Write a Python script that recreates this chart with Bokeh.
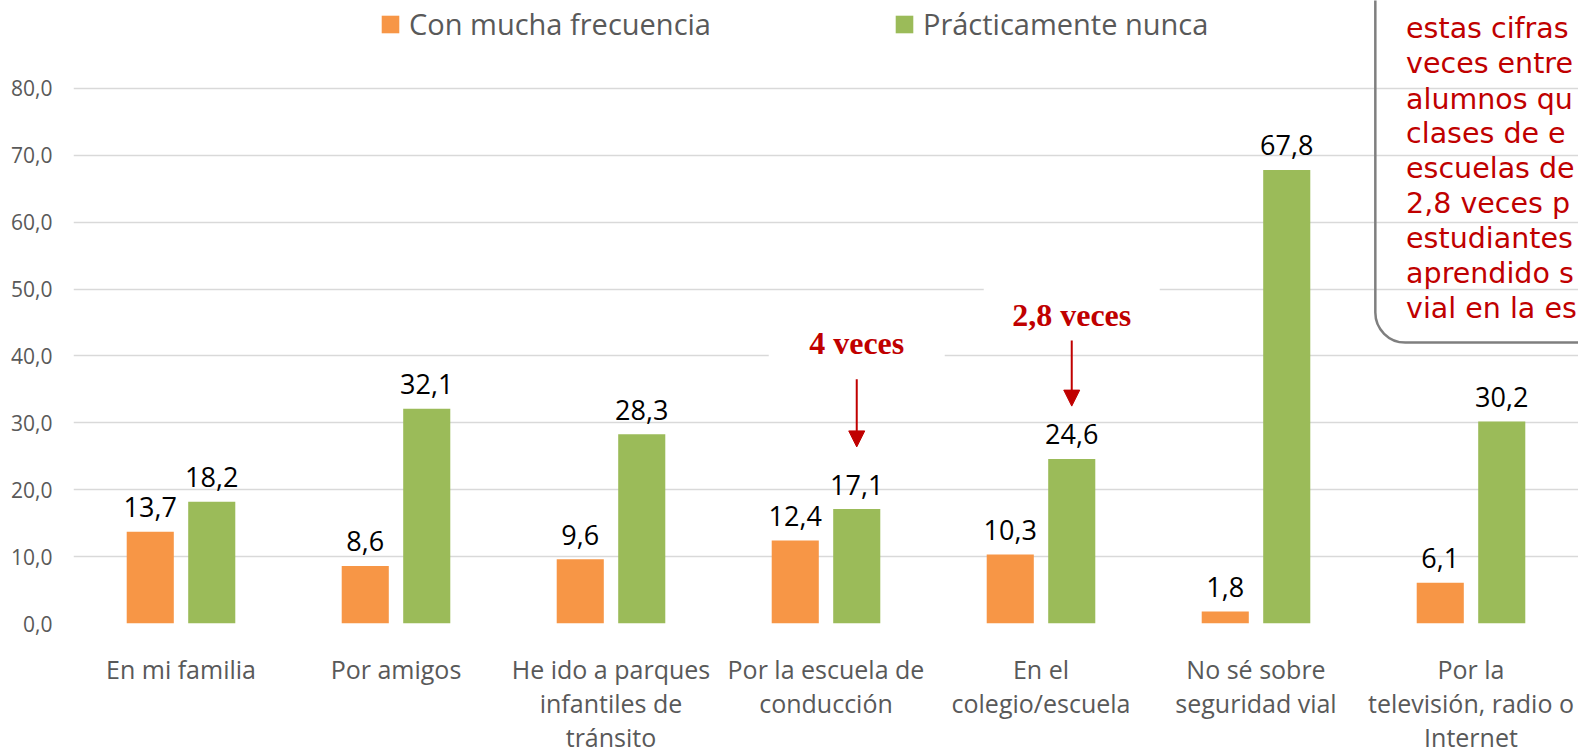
from bokeh.plotting import figure
from bokeh.models import (FactorRange, Range1d, FixedTicker, ColumnDataSource, Legend, LegendItem,
                          BoxAnnotation, Arrow, NormalHead, CustomJSTickFormatter)
from bokeh.transform import dodge
from bokeh.core.properties import value
from bokeh.embed import file_html
from bokeh.resources import INLINE

# ---------------- data ----------------
categories = [
    "En mi familia",
    "Por amigos",
    "He ido a parques\ninfantiles de\ntránsito",
    "Por la escuela de\nconducción",
    "En el\ncolegio/escuela",
    "No sé sobre\nseguridad vial",
    "Por la\ntelevisión, radio o\nInternet",
]
con_mucha_frecuencia = [13.7, 8.6, 9.6, 12.4, 10.3, 1.8, 6.1]
practicamente_nunca = [18.2, 32.1, 28.3, 17.1, 24.6, 67.8, 30.2]
series_names = ["Con mucha frecuencia", "Prácticamente nunca"]
y_ticks = [0, 10, 20, 30, 40, 50, 60, 70, 80]

# annotations
note_labels = ["4 veces", "2,8 veces"]
note_cat_index = [3, 4]
note_text_y = [42.0, 46.1]
note_box_y = [42.8, 46.6]
note_arrow_start = [36.5, 42.3]
note_arrow_end = [26.4, 32.5]

callout_lines = [
    "estas cifras",
    "veces entre",
    "alumnos qu",
    "clases de e",
    "escuelas de",
    "2,8 veces p",
    "estudiantes",
    "aprendido s",
    "vial en la es",
]
callout_line_y = [88.9, 83.7, 78.4, 73.2, 68.0, 62.8, 57.5, 52.3, 47.1]

ORANGE = "#F79646"
GREEN = "#9BBB59"
RED = "#C00000"
GREY_TXT = "#595959"
GRID = "#D9D9D9"
OFF = 0.143
BAR_W = 0.219

def fmt(v):
    return f"{v:.1f}".replace(".", ",")

src = ColumnDataSource(dict(
    cat=categories,
    a=con_mucha_frecuencia,
    b=practicamente_nunca,
    a_lab=[fmt(v) for v in con_mucha_frecuencia],
    b_lab=[fmt(v) for v in practicamente_nunca],
))

p = figure(width=1578, height=756, x_range=FactorRange(*categories, range_padding=0),
           y_range=Range1d(0, 93.14), output_backend="svg", toolbar_location=None,
           min_border_left=73, min_border_right=0, min_border_top=0, min_border_bottom=131)
p.outline_line_color = None
p.background_fill_color = "white"
p.border_fill_color = "white"

r1 = p.vbar(x=dodge("cat", -OFF, range=p.x_range), top="a", width=BAR_W, source=src,
            fill_color=ORANGE, line_color=None)
r2 = p.vbar(x=dodge("cat", OFF, range=p.x_range), top="b", width=BAR_W, source=src,
            fill_color=GREEN, line_color=None)

for col, lab, off in (("a", "a_lab", -OFF), ("b", "b_lab", OFF)):
    p.text(x=dodge("cat", off, range=p.x_range), y=col, text=lab, source=src,
           text_align="center", text_baseline="alphabetic", y_offset=-24.5,
           text_font=value("Open Sans"), text_font_size="27px", text_color="#000000")

# axes
p.xgrid.visible = False
p.ygrid.grid_line_color = GRID
p.ygrid.grid_line_width = 1.5
p.yaxis.ticker = FixedTicker(ticks=y_ticks)
p.yaxis.formatter = CustomJSTickFormatter(code="return tick.toFixed(1).replace('.', ',');")
p.yaxis.axis_line_color = None
p.yaxis.major_tick_line_color = None
p.yaxis.major_tick_out = 0
p.yaxis.major_tick_in = 0
p.yaxis.minor_tick_line_color = None
p.yaxis.major_label_text_font = "Open Sans"
p.yaxis.major_label_text_font_size = "21px"
p.yaxis.major_label_text_color = GREY_TXT
p.yaxis.major_label_standoff = 21

p.xaxis.axis_line_color = None
p.xaxis.major_tick_line_color = None
p.xaxis.major_tick_out = 0
p.xaxis.major_tick_in = 0
p.xaxis.major_label_text_font = "Open Sans"
p.xaxis.major_label_text_font_size = "25px"
p.xaxis.major_label_text_color = GREY_TXT
p.xaxis.major_label_text_line_height = 1.0
p.xaxis.major_label_standoff = 28

# legend
legend = Legend(items=[LegendItem(label=series_names[0], renderers=[r1]),
                       LegendItem(label=series_names[1], renderers=[r2])],
                orientation="horizontal", location=(306, 580),
                glyph_width=22, glyph_height=22, label_standoff=8, spacing=182,
                label_text_font="Open Sans", label_text_font_size="29px",
                label_text_color=GREY_TXT, background_fill_alpha=0,
                border_line_color=None, padding=0, margin=0)
p.add_layout(legend)

# annotation notes ("4 veces", "2,8 veces")
note_src = ColumnDataSource(dict(
    cat=[categories[i] for i in note_cat_index],
    text=note_labels,
    ty=note_text_y,
    by=note_box_y,
    xs=[i + 0.5 + OFF for i in note_cat_index],
    y0=note_arrow_start,
    y1=note_arrow_end,
))
p.rect(x=dodge("cat", OFF, range=p.x_range), y="by", width=176, height=58,
       width_units="screen", height_units="screen", source=note_src,
       fill_color="white", line_color=None)
p.text(x=dodge("cat", OFF, range=p.x_range), y="ty", text="text", source=note_src,
       text_align="center", text_baseline="alphabetic",
       text_font=value("Liberation Serif"), text_font_style="bold",
       text_font_size="32px", text_color=RED)
p.add_layout(Arrow(x_start="xs", y_start="y0", x_end="xs", y_end="y1", source=note_src,
                   line_color=RED, line_width=2,
                   end=NormalHead(size=16, fill_color=RED, line_color=RED)))

# callout box (cut off at the right)
p.add_layout(BoxAnnotation(left=6.055, right=7.4, bottom=42.0, top=98,
                           fill_alpha=0, line_color="#7F7F7F", line_alpha=1.0,
                           line_width=2.5, border_radius=30))
call_src = ColumnDataSource(dict(x=[6.198] * len(callout_lines), y=callout_line_y,
                                 text=callout_lines))
p.text(x="x", y="y", text="text", source=call_src, text_align="left",
       text_baseline="alphabetic", text_font=value("DejaVu Sans"),
       text_font_size="28.5px", text_color=RED)

open("out.html", "w").write(file_html(p, INLINE))
